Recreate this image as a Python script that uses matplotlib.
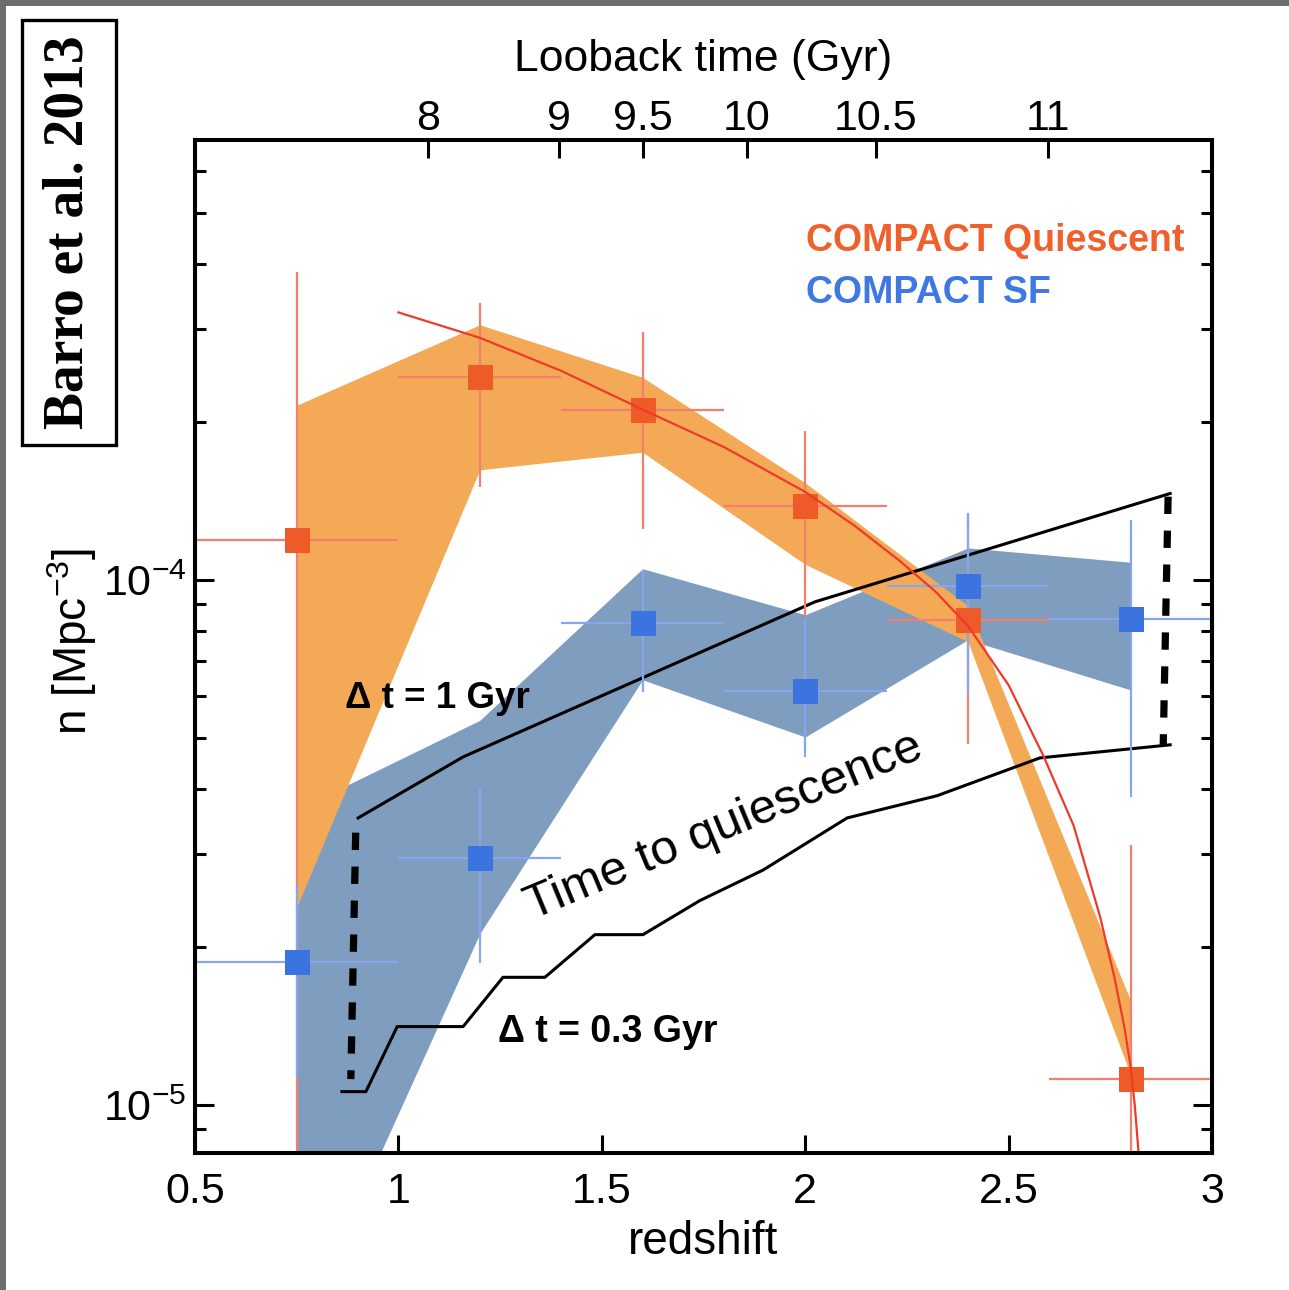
import numpy as np
import matplotlib as mpl
mpl.use('Agg')
import matplotlib.pyplot as plt
from matplotlib.patches import Rectangle
from matplotlib.ticker import LogLocator, NullFormatter, FixedLocator, FixedFormatter

plt.rcParams['font.family'] = ['Liberation Sans', 'DejaVu Sans']
plt.rcParams['mathtext.fontset'] = 'custom'
plt.rcParams['mathtext.rm'] = 'Liberation Sans'
plt.rcParams['mathtext.default'] = 'regular'

# redshift bins and their half widths
z_bins = [0.75, 1.2, 1.6, 2.0, 2.4, 2.8]
dz_lo = [0.25, 0.2, 0.2, 0.2, 0.2, 0.2]
dz_hi = [0.25, 0.2, 0.2, 0.2, 0.2, 0.2]

# compact quiescent number densities (Mpc^-3)
n_q = [1.19e-4, 2.43e-4, 2.11e-4, 1.38e-4, 8.39e-5, 1.12e-5]
n_q_hi = [3.86e-4, 3.36e-4, 2.96e-4, 1.92e-4, 1.34e-4, 3.13e-5]
n_q_lo = [5.0e-6, 1.50e-4, 1.25e-4, 8.5e-5, 4.87e-5, 5.0e-6]

# compact star-forming number densities
n_sf = [1.87e-5, 2.95e-5, 8.28e-5, 6.15e-5, 9.74e-5, 8.43e-5]
n_sf_hi = [2.62e-5, 4.02e-5, 1.045e-4, 8.4e-5, 1.34e-4, 1.30e-4]
n_sf_lo = [1.13e-5, 1.86e-5, 6.12e-5, 4.6e-5, 6.09e-5, 3.86e-5]

# shaded ranges
q_band_lo = [2.38e-5, 1.62e-4, 1.75e-4, 1.07e-4, 7.62e-5, 1.14e-5]
q_band_hi = [2.15e-4, 3.06e-4, 2.43e-4, 1.53e-4, 8.92e-5, 1.58e-5]
sf_band_lo = [3.6e-6, 2.12e-5, 6.45e-5, 5.02e-5, 7.69e-5, 6.17e-5]
sf_band_hi = [3.65e-5, 5.4e-5, 1.05e-4, 8.58e-5, 1.15e-4, 1.08e-4]

# fit to the quiescent densities
fit_z = [1.0, 1.2, 1.4, 1.6, 1.8, 2.0, 2.12, 2.23, 2.32, 2.4, 2.5, 2.585,
         2.66, 2.725, 2.76, 2.785, 2.8, 2.81, 2.82]
fit_n = [3.23e-4, 2.89e-4, 2.50e-4, 2.11e-4, 1.79e-4, 1.47e-4, 1.27e-4, 1.09e-4,
         9.5e-5, 8.17e-5, 6.3e-5, 4.63e-5, 3.4e-5, 2.28e-5, 1.75e-5, 1.4e-5,
         1.18e-5, 1.0e-5, 8.0e-6]

# SF densities shifted by the quenching time
dt1_z = [0.901, 1.159, 2.024, 2.897]
dt1_n = [3.52e-5, 4.60e-5, 9.08e-5, 1.46e-4]
dt03_z = [0.861, 0.920, 0.997, 1.159, 1.257, 1.360, 1.483, 1.601, 1.741, 1.896, 2.103, 2.324, 2.577, 2.897]
dt03_n = [1.06e-5, 1.06e-5, 1.41e-5, 1.41e-5, 1.75e-5, 1.75e-5, 2.11e-5, 2.11e-5, 2.45e-5, 2.80e-5, 3.52e-5, 3.88e-5, 4.58e-5, 4.85e-5]
gap_left_z = [0.895, 0.883]
gap_left_n = [3.30e-5, 1.12e-5]
gap_right_z = [2.892, 2.880]
gap_right_n = [1.44e-4, 4.85e-5]

# lookback time axis
lookback_labels = ['8', '9', '9.5', '10', '10.5', '11']
lookback_z = [1.073, 1.394, 1.600, 1.857, 2.173, 2.597]

z_ticks = [0.5, 1, 1.5, 2, 2.5, 3]
z_ticklabels = ['0.5', '1', '1.5', '2', '2.5', '3']

red = '#EE5A28'
red_err = '#F3806E'
blue = '#3C74DF'
blue_err = '#86A6F2'
orange_fill = '#F4A957'
blue_fill = '#7F9DBF'

fig = plt.figure(figsize=(12.89, 12.90), dpi=100)
ax = fig.add_axes([0.1513, 0.1062, 0.789, 0.7853])
ax.set_yscale('log')

ax.fill_between(z_bins, sf_band_lo, sf_band_hi, color=blue_fill, lw=0, zorder=1)
ax.fill_between(z_bins, q_band_lo, q_band_hi, color=orange_fill, lw=0, zorder=2)

ax.plot(dt1_z, dt1_n, color='k', lw=2.2, zorder=3)
ax.plot(dt03_z, dt03_n, color='k', lw=2.2, zorder=3)
ax.plot(gap_left_z, gap_left_n, color='k', lw=5.2, ls=(0, (2.4, 2.3)), zorder=3)
ax.plot(gap_right_z, gap_right_n, color='k', lw=5.2, ls=(0, (2.4, 2.3)), zorder=3)

for n, hi, lo, mc, ec in [(n_q, n_q_hi, n_q_lo, red, red_err),
                          (n_sf, n_sf_hi, n_sf_lo, blue, blue_err)]:
    n = np.array(n)
    yerr = [n - np.array(lo), np.array(hi) - n]
    ax.errorbar(z_bins, n, xerr=[dz_lo, dz_hi], fmt='none', ecolor=ec,
                elinewidth=1.6, capsize=0, zorder=4)
    ax.errorbar(z_bins, n, yerr=yerr, fmt='s', ms=18, mfc=mc, mec=mc, mew=0,
                ecolor=ec, elinewidth=1.6, capsize=8.5, capthick=1.6, zorder=5)

ax.plot(fit_z, fit_n, color='#EE3A2A', lw=1.6, zorder=6)

ax.set_xlim(0.5, 3)
ax.set_ylim(8.1e-6, 6.88e-4)
ax.xaxis.set_major_locator(FixedLocator(z_ticks))
ax.xaxis.set_major_formatter(FixedFormatter(z_ticklabels))
ax.yaxis.set_major_locator(LogLocator(base=10))
ax.yaxis.set_minor_locator(LogLocator(base=10, subs=np.arange(2, 10)))
ax.yaxis.set_minor_formatter(NullFormatter())

for side in ax.spines.values():
    side.set_linewidth(2.9)
ax.tick_params(axis='x', which='major', direction='in', top=False, length=13, width=2.2,
               labelsize=31, pad=14)
ax.tick_params(axis='y', which='major', direction='in', right=True, length=14, width=2.2,
               labelsize=31, pad=6)
ax.tick_params(axis='y', which='minor', direction='in', right=True, length=8, width=2.2)

ax.set_xlabel('redshift', fontsize=33)
ax.xaxis.set_label_coords(0.5, -0.066)
ax.set_ylabel(r'n [Mpc$^{-3}$]', fontsize=33)
ax.yaxis.set_label_coords(-0.094, 0.505)

top = ax.twiny()
top.set_xlim(ax.get_xlim())
top.xaxis.set_major_locator(FixedLocator(lookback_z))
top.xaxis.set_major_formatter(FixedFormatter(lookback_labels))
top.tick_params(axis='x', direction='in', length=13, width=2.2, labelsize=31, pad=1)
for side in top.spines.values():
    side.set_linewidth(2.9)
top.set_xlabel('Looback time (Gyr)', fontsize=32)
top.xaxis.set_label_coords(0.5, 1.068)

ax.text(0.601, 0.900, 'COMPACT Quiescent', transform=ax.transAxes, color='#F0602C',
        fontsize=27, fontweight='bold', ha='left', va='center', zorder=7)
ax.text(0.601, 0.849, 'COMPACT SF', transform=ax.transAxes, color='#3E78E2',
        fontsize=27, fontweight='bold', ha='left', va='center', zorder=7)
ax.text(0.1475, 0.449, 'Δ t = 1 Gyr', transform=ax.transAxes, fontsize=26.5,
        fontweight='bold', ha='left', va='center', zorder=7)
ax.text(0.298, 0.1194, 'Δ t = 0.3 Gyr', transform=ax.transAxes, fontsize=27,
        fontweight='bold', ha='left', va='center', zorder=7)
ax.text(0.52, 0.322, 'Time to quiescence', transform=ax.transAxes, fontsize=35.5,
        rotation=22.5, rotation_mode='anchor', ha='center', va='center', zorder=7)

# reference tag on the left
fig.patches.append(Rectangle((22 / 1289, 1 - 445 / 1290), 94 / 1289, 425 / 1290,
                             transform=fig.transFigure, fill=False, ec='k', lw=2.4))
fig.text(69 / 1289, 1 - 232 / 1290, 'Barro et al. 2013', family='Liberation Serif',
         fontweight='bold', fontsize=40, rotation=90, ha='center', va='center')

# screenshot frame strips
fig.patches.append(Rectangle((0, 1 - 6 / 1290), 1, 6 / 1290, transform=fig.transFigure,
                             color='#6E6E6E', lw=0))
fig.patches.append(Rectangle((0, 0), 6 / 1289, 1, transform=fig.transFigure,
                             color='#6E6E6E', lw=0))

fig.savefig('out.png', dpi=100)
